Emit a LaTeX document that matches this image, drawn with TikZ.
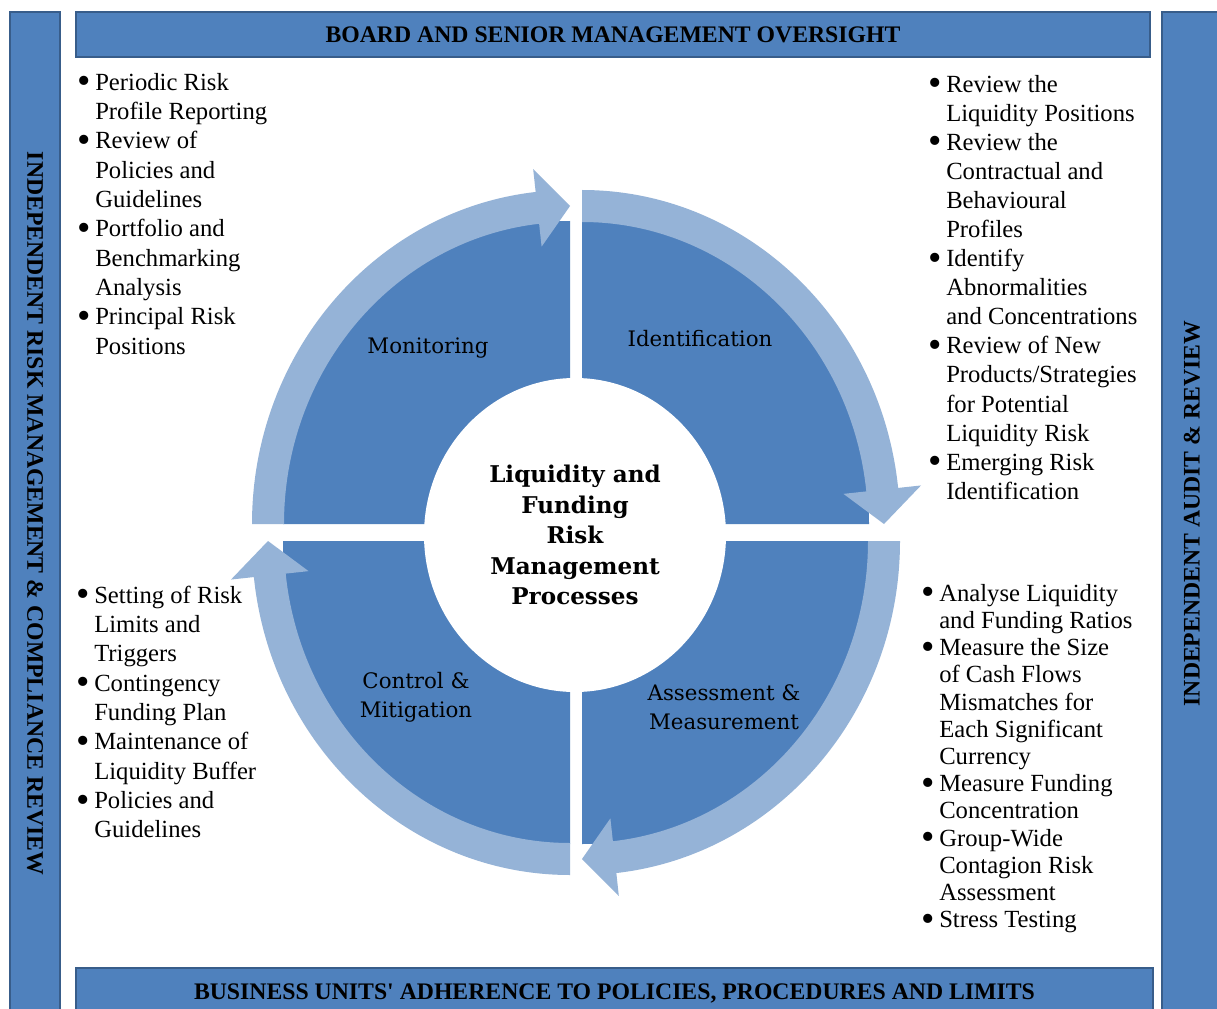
\documentclass[tikz,border=0pt]{standalone}
\usepackage{graphicx}
\usepackage{fontspec}
\setmainfont{Liberation Serif}
\newfontfamily\cyclefont{DejaVu Serif}
\usetikzlibrary{shapes.geometric}

\definecolor{barblue}{RGB}{79,129,189}
\definecolor{barline}{RGB}{56,93,138}
\definecolor{quadblue}{RGB}{79,129,189}
\definecolor{arrowblue}{RGB}{149,179,215}

% bullet line and continuation line of a list
\newcommand\bigdot{\raisebox{-2.6pt}{\scalebox{1.55}{\textbullet}}}
\newcommand\bitem{\strut\llap{\bigdot\hspace{3.5pt}}}
\newcommand\citem{\strut}

% one quarter of the cycle: corner, start angle, end angle
\newcommand\quadpie[3]{%
  \fill[quadblue,shift={#1}] (0,0) -- ({287*cos(#2)},{303*sin(#2)})
    arc[start angle=#2,end angle=#3,x radius=287,y radius=303] -- cycle;}

% curved block arrow around one quarter: corner, start angle, end angle (head)
\newcommand\cyclearrow[3]{%
  \pgfmathsetmacro\headbase{#3-6.2}%
  \fill[arrowblue,shift={#1}]
    ({286*cos(#2)},{302*sin(#2)})
    arc[start angle=#2,end angle=\headbase,x radius=286,y radius=302]
    -- ({263*cos(\headbase)},{279*sin(\headbase)})
    -- ({302*cos(#3)},{318*sin(#3)})
    -- ({341*cos(\headbase)},{357*sin(\headbase)})
    -- ({318*cos(\headbase)},{334*sin(\headbase)})
    arc[start angle=\headbase,end angle=#2,x radius=318,y radius=334]
    -- cycle;}

\begin{document}
\begin{tikzpicture}[x=0.75pt,y=-0.75pt,
  bar/.style={draw=barline,fill=barblue,line width=0.8pt,inner sep=0pt,
    font=\fontsize{17.8}{20}\selectfont\bfseries},
  bullets/.style={anchor=north west,inner sep=0pt,align=left,
    font=\fontsize{18.5}{22}\selectfont},
  qlabel/.style={inner sep=0pt,align=center,
    font=\cyclefont\fontsize{16}{21.5}\selectfont},
  hub/.style={shape=ellipse,fill=white,inner sep=0pt,align=center,
    minimum width=226.5pt,minimum height=235.5pt,
    font=\cyclefont\bfseries\fontsize{17.3}{22.9}\selectfont}]

\useasboundingbox (0,0) rectangle (1217,1009);
\fill[white] (0,0) rectangle (1217,1009);

% frame of oversight bars
\node[bar,minimum width=805.5pt,minimum height=33.75pt] (board) at (613,34.5)
  {BOARD AND SENIOR MANAGEMENT OVERSIGHT};
\node[bar,minimum width=807.75pt,minimum height=37.5pt] (units) at (614.5,993)
  {BUSINESS UNITS\textquotesingle{} ADHERENCE TO POLICIES, PROCEDURES AND LIMITS};
\node[bar,rotate=-90,minimum width=752.25pt,minimum height=37.5pt] (irm) at (35,513.5)
  {INDEPENDENT RISK MANAGEMENT \& COMPLIANCE REVIEW};
\node[bar,rotate=90,minimum width=752.25pt,minimum height=45pt] (audit) at (1192,513.5)
  {INDEPENDENT AUDIT \& REVIEW};

% the four process quarters
\quadpie{(570,524)}{180}{270}
\quadpie{(582,524)}{270}{360}
\quadpie{(582,541)}{0}{90}
\quadpie{(570,541)}{90}{180}

% clockwise arrows around the quarters
\cyclearrow{(570,524)}{180}{270}
\cyclearrow{(582,524)}{270}{360}
\cyclearrow{(582,541)}{0}{90}
\cyclearrow{(570,541)}{90}{180}

% centre
\node[hub] (hub) at (575,535)
  {Liquidity and\\Funding\\Risk\\Management\\Processes};

% process names
\node[qlabel] (mon) at (428,348) {Monitoring};
\node[qlabel] (idf) at (700,339) {Identification};
\node[qlabel] (ctl) at (416,697) {Control \&\\Mitigation};
\node[qlabel] (asm) at (724,707) {Assessment \&\\Measurement};

% activity lists
\node[bullets] (monlist) at (95,69.5)
  {\bitem Periodic Risk\\\citem Profile Reporting\\
   \bitem Review of\\\citem Policies and\\\citem Guidelines\\
   \bitem Portfolio and\\\citem Benchmarking\\\citem Analysis\\
   \bitem Principal Risk\\\citem Positions};

\node[bullets,font=\fontsize{18.5}{21.8}\selectfont] (idflist) at (946,71.7)
  {\bitem Review the\\\citem Liquidity Positions\\
   \bitem Review the\\\citem Contractual and\\\citem Behavioural\\\citem Profiles\\
   \bitem Identify\\\citem Abnormalities\\\citem and Concentrations\\
   \bitem Review of New\\\citem Products/Strategies\\\citem for Potential\\\citem Liquidity Risk\\
   \bitem Emerging Risk\\\citem Identification};

\node[bullets] (ctllist) at (94,582.5)
  {\bitem Setting of Risk\\\citem Limits and\\\citem Triggers\\
   \bitem Contingency\\\citem Funding Plan\\
   \bitem Maintenance of\\\citem Liquidity Buffer\\
   \bitem Policies and\\\citem Guidelines};

\node[bullets,font=\fontsize{18.5}{20.4}\selectfont] (asmlist) at (939,582)
  {\bitem Analyse Liquidity\\\citem and Funding Ratios\\
   \bitem Measure the Size\\\citem of Cash Flows\\\citem Mismatches for\\\citem Each Significant\\\citem Currency\\
   \bitem Measure Funding\\\citem Concentration\\
   \bitem Group-Wide\\\citem Contagion Risk\\\citem Assessment\\
   \bitem Stress Testing};

\end{tikzpicture}
\end{document}
